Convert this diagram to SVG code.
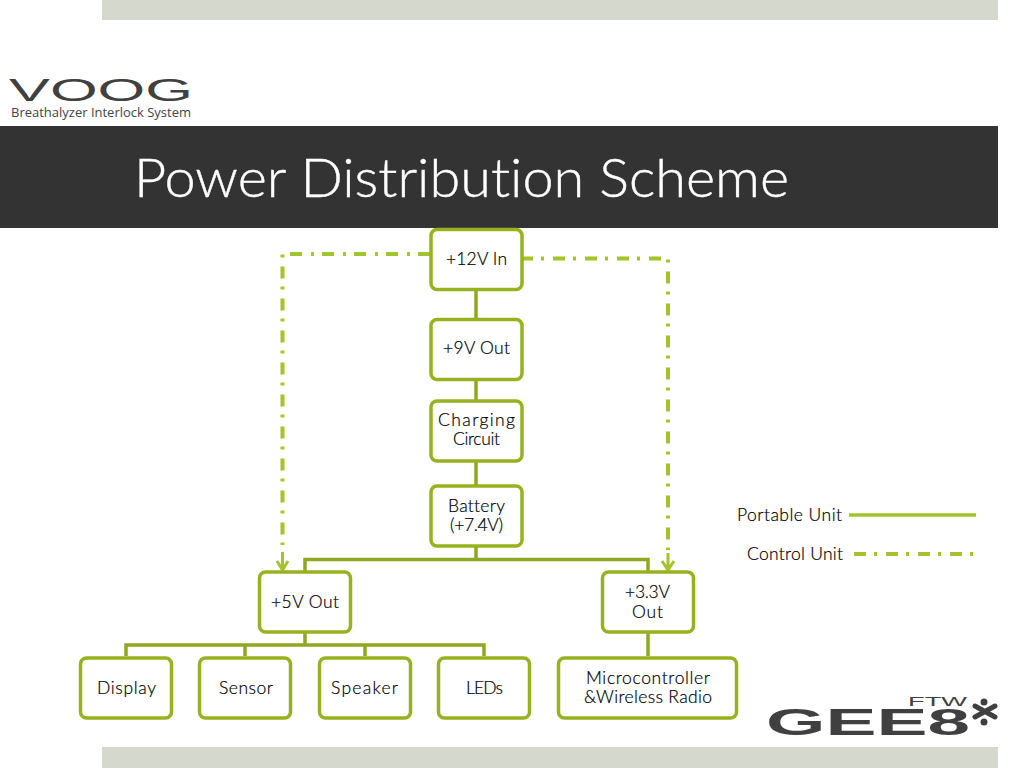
<svg xmlns="http://www.w3.org/2000/svg" width="1024" height="768" viewBox="0 0 1024 768">
<style>
.band{fill:#d5d8cd}
.n rect{fill:#fff;stroke:#96b31f;stroke-width:3.5}
.n text,.lg{font-family:"Lato","Open Sans",sans-serif;font-weight:300;font-variant-ligatures:none;font-size:17.500px;fill:#000;stroke:#000;stroke-width:.2;text-anchor:middle}
.s{fill:none;stroke:#8fa822;stroke-width:3.5}
.d{fill:none;stroke:#a3c42a;stroke-width:4;stroke-dasharray:12 8 3 9}
.a{fill:none;stroke:#a3c42a;stroke-width:3}
.lo{font-family:"Liberation Sans",sans-serif;fill:#404040}
</style>
<rect class="band" x="102" y="0" width="896" height="20"/>
<rect class="band" x="102" y="747" width="896" height="21"/>
<rect x="0" y="126" width="998" height="102" fill="#333"/>
<text x="134" y="197" font-family="Lato,sans-serif" font-weight="300" font-size="53" fill="#fff" stroke="#fff" stroke-width=".4" style="font-variant-ligatures:none" textLength="655" lengthAdjust="spacingAndGlyphs">Power Distribution Scheme</text>
<g id="logo-voog">
<text class="lo" x="9" y="101" font-size="32" textLength="184" lengthAdjust="spacingAndGlyphs">VOOG</text>
<text x="11" y="117" font-family="'Open Sans',sans-serif" font-size="13" fill="#444" textLength="180" lengthAdjust="spacingAndGlyphs">Breathalyzer Interlock System</text>
</g>
<g id="logo-gee8">
<text class="lo" x="766" y="735" font-size="37" font-weight="700" textLength="204" lengthAdjust="spacingAndGlyphs">GEE8</text>
<text class="lo" x="908" y="706" font-size="12" textLength="59" lengthAdjust="spacingAndGlyphs">FTW</text>
<path d="M975 706L995 717M995 706L975 717" stroke="#404040" stroke-width="5" stroke-linecap="round"/>
<circle cx="984" cy="702" r="3.500" fill="#404040"/><circle cx="984" cy="722" r="3.500" fill="#404040"/>
</g>
<g id="connectors">
<path class="s" d="M476 290V319M476 380V400M476 461V485M476 547V559.500M305 571V559.500H648V571M305 633V645M126 656V645H484V656M245 645V656M365 645V656M648 633V656"/>
<path class="d" d="M430 254H282.500V545"/>
<path class="d" d="M521 258.500H668V550"/>
<path class="a" d="M282.500 552V570M277 561L282.500 570L288 561"/>
<path class="a" d="M668 553V570M662 561L668 570L674 561"/>
</g>
<g id="n12" class="n"><rect x="431" y="229.500" width="91" height="60" rx="6"/><text x="476.500" y="265" textLength="61">+12V In</text></g>
<g id="n9" class="n"><rect x="431" y="319.500" width="91" height="60" rx="6"/><text x="476.500" y="354" textLength="67">+9V Out</text></g>
<g id="ncharge" class="n"><rect x="431" y="401" width="91" height="60" rx="6"/><text x="476.500" y="426" textLength="77">Charging</text><text x="476.500" y="445" textLength="47">Circuit</text></g>
<g id="nbatt" class="n"><rect x="431" y="486" width="91" height="60" rx="6"/><text x="476.500" y="512" textLength="57">Battery</text><text x="476.500" y="531" textLength="53">(+7.4V)</text></g>
<g id="n5" class="n"><rect x="259.500" y="572" width="91" height="60" rx="6"/><text x="305" y="608" textLength="68">+5V Out</text></g>
<g id="n33" class="n"><rect x="602.500" y="572" width="91" height="60" rx="6"/><text x="647.500" y="598" textLength="45">+3.3V</text><text x="647.500" y="618" textLength="31">Out</text></g>
<g id="ndisplay" class="n"><rect x="80.500" y="658" width="91" height="60" rx="6"/><text x="126.500" y="694" textLength="59">Display</text></g>
<g id="nsensor" class="n"><rect x="199.500" y="658" width="91" height="60" rx="6"/><text x="246" y="694" textLength="54">Sensor</text></g>
<g id="nspeaker" class="n"><rect x="319.500" y="658" width="91" height="60" rx="6"/><text x="364.500" y="694" textLength="67">Speaker</text></g>
<g id="nleds" class="n"><rect x="438.500" y="658" width="91" height="60" rx="6"/><text x="484.500" y="694" textLength="37">LEDs</text></g>
<g id="nmicro" class="n"><rect x="558.500" y="658" width="178" height="60" rx="6"/><text x="648" y="684" textLength="124">Microcontroller</text><text x="648" y="703" textLength="128">&amp;Wireless Radio</text></g>
<g id="legend">
<text class="lg" x="789.500" y="521" textLength="105">Portable Unit</text>
<text class="lg" x="795" y="560" textLength="96">Control Unit</text>
<path d="M849 515H976" fill="none" stroke="#a3c42a" stroke-width="3.500"/>
<path class="d" d="M854 554H975"/>
</g>
</svg>
